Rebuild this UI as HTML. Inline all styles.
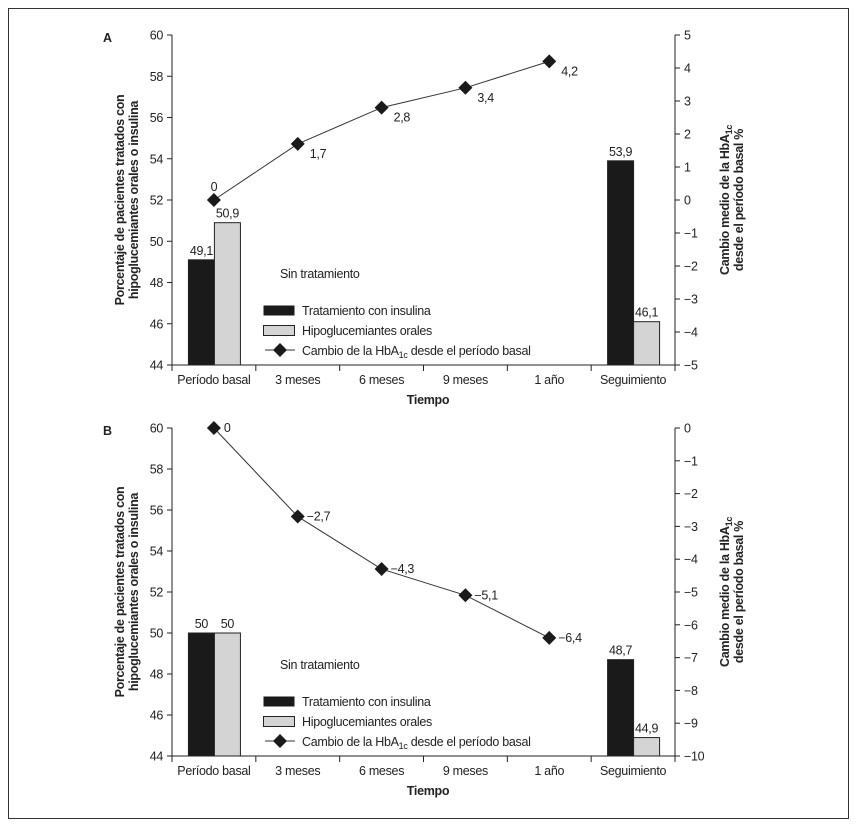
<!DOCTYPE html>
<html><head><meta charset="utf-8"><style>
body{margin:0;background:#fff}
svg{display:block;font-family:"Liberation Sans",sans-serif}
text{font-size:12.5px;fill:#222;letter-spacing:-0.3px}
.b{font-weight:bold}
</style></head><body>
<svg id="chart" width="858" height="826">
<rect x="8.5" y="8.5" width="840" height="810" fill="none" stroke="#333"/>
</svg>
<script>
const categories=["Período basal","3 meses","6 meses","9 meses","1 año","Seguimiento"];
const insulinA=[49.1,null,null,null,null,53.9];
const oralA=[50.9,null,null,null,null,46.1];
const hbaA=[0,1.7,2.8,3.4,4.2];
const insulinB=[50,null,null,null,null,48.7];
const oralB=[50,null,null,null,null,44.9];
const hbaB=[0,-2.7,-4.3,-5.1,-6.4];
const leftTicks=[44,46,48,50,52,54,56,58,60];
const rightTicksA=[-5,-4,-3,-2,-1,0,1,2,3,4,5];
const rightTicksB=[-10,-9,-8,-7,-6,-5,-4,-3,-2,-1,0];
const labelsA=["0","1,7","2,8","3,4","4,2"];
const labelsB=["0","\u22122,7","\u22124,3","\u22125,1","\u22126,4"];
const NS="http://www.w3.org/2000/svg";
const svg=document.getElementById('chart');
function mk(t,a,p){const e=document.createElementNS(NS,t);for(const k in a)e.setAttribute(k,a[k]);(p||svg).appendChild(e);return e;}
function fmt(v){return (v<0?"\u2212":"")+String(Math.abs(v)).replace('.',',');}
function panel(o){
 const g=mk('g',{});
 
 
 const x0=172,x1=675,top=o.top,bot=o.bot;
 const bw=(x1-x0)/categories.length;
 const yL=v=>bot-(v-44)/16*(bot-top);
 const yR=v=>bot-(v-o.rmin)/(o.rmax-o.rmin)*(bot-top);
 const cx=i=>x0+bw*(i+0.5);
 let t=mk('text',{x:103,y:top+7,class:'b'},g);t.textContent=o.id;
 
 // axes
 let a=mk('line',{x1:x0,y1:top,x2:x0,y2:bot,stroke:'#222'},g);
 
 a=mk('line',{x1:x1,y1:top,x2:x1,y2:bot,stroke:'#222'},g);
 
 a=mk('line',{x1:x0,y1:bot,x2:x1,y2:bot,stroke:'#222'},g);
 
 leftTicks.forEach(v=>{const y=yL(v);mk('line',{x1:x0-5,y1:y,x2:x0,y2:y,stroke:'#222'},g);
  const l=mk('text',{x:x0-9,y:y+4.5,'text-anchor':'end'},g);l.textContent=v;
  });
 o.rt.forEach(v=>{const y=yR(v);mk('line',{x1:x1,y1:y,x2:x1+5,y2:y,stroke:'#222'},g);
  const l=mk('text',{x:x1+9,y:y+4.5},g);l.textContent=fmt(v);
  });
 categories.forEach((c,i)=>{mk('line',{x1:x0+bw*i,y1:bot,x2:x0+bw*i,y2:bot+6,stroke:'#222'},g);
  const l=mk('text',{x:cx(i),y:bot+19,'text-anchor':'middle'},g);l.textContent=c;
  });
 mk('line',{x1:x1,y1:bot,x2:x1,y2:bot+6,stroke:'#222'},g);
 t=mk('text',{x:428,y:bot+39,'text-anchor':'middle',class:'b'},g);t.textContent='Tiempo';
 
 const my=(top+bot)/2;
 t=mk('text',{transform:`translate(124,${my}) rotate(-90)`,'text-anchor':'middle',class:'b'},g);t.textContent='Porcentaje de pacientes tratados con';
 
 t=mk('text',{transform:`translate(138,${my}) rotate(-90)`,'text-anchor':'middle',class:'b'},g);t.textContent='hipoglucemiantes orales o insulina';
 
 t=mk('text',{transform:`translate(729,${my}) rotate(-90)`,'text-anchor':'middle',class:'b'},g);t.innerHTML='Cambio medio de la HbA<tspan font-size="9" dy="3">1c</tspan>';
 
 t=mk('text',{transform:`translate(743,${my}) rotate(-90)`,'text-anchor':'middle',class:'b'},g);t.textContent='desde el período basal %';
 
 // bars
 categories.forEach((c,i)=>{
  [[o.ins,'#1a1a1a',-26],[o.oral,'#d4d4d4',0]].forEach(([arr,col,dx])=>{
   const v=arr[i];if(v==null)return;
   const bx=cx(i)+dx+0.5,by=yL(v);
   const r=mk('rect',{x:bx,y:by,width:26,height:bot-by,fill:col,stroke:'#222'},g);
   
   
   const l=mk('text',{x:bx+13,y:by-5,'text-anchor':'middle'},g);l.textContent=fmt(v);
   
  });
 });
 // line
 const pts=o.hba.map((v,i)=>cx(i)+','+yR(v)).join(' ');
 const pl=mk('polyline',{points:pts,fill:'none',stroke:'#333','stroke-width':1},g);
 
 o.hba.forEach((v,i)=>{const x=cx(i),y=yR(v);
  const d=mk('polygon',{points:`${x},${y-7} ${x+7},${y} ${x},${y+7} ${x-7},${y}`,fill:'#1a1a1a'},g);
  
  const l=i===0?mk('text',{x:x+(o.id==='A'?0:10),y:o.id==='A'?y-9:y+4,'text-anchor':o.id==='A'?'middle':'start'},g)
   :mk('text',{x:x+(o.id==='A'?12:9),y:o.id==='A'?y+14:y+4},g);
  l.textContent=o.labels[i];
  });
 // legend
 const ly=o.leg;
 t=mk('text',{x:280,y:ly},g);t.textContent='Sin tratamiento';
 
 let r=mk('rect',{x:263.5,y:ly+27.5,width:31,height:10,fill:'#1a1a1a'},g);
 
 t=mk('text',{x:302,y:ly+37},g);t.textContent='Tratamiento con insulina';
 
 r=mk('rect',{x:263.5,y:ly+47.5,width:31,height:10,fill:'#d4d4d4',stroke:'#222'},g);
 
 t=mk('text',{x:302,y:ly+57},g);t.textContent='Hipoglucemiantes orales';
 
 mk('line',{x1:265,y1:ly+72,x2:295,y2:ly+72,stroke:'#333'},g);
 r=mk('polygon',{points:`280,${ly+65} 287,${ly+72} 280,${ly+79} 273,${ly+72}`,fill:'#1a1a1a'},g);
 
 t=mk('text',{x:302,y:ly+77},g);t.innerHTML='Cambio de la HbA<tspan font-size="9" dy="3">1c</tspan><tspan dy="-3"> desde el período basal</tspan>';
 
}
panel({id:'A',top:35,bot:365,rmin:-5,rmax:5,rt:rightTicksA,ins:insulinA,oral:oralA,hba:hbaA,labels:labelsA,leg:278});
panel({id:'B',top:428,bot:756,rmin:-10,rmax:0,rt:rightTicksB,ins:insulinB,oral:oralB,hba:hbaB,labels:labelsB,leg:669});
</script>
</body></html>
